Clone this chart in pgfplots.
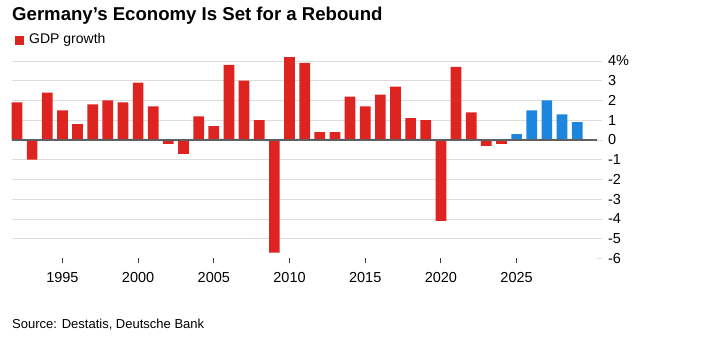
\documentclass[border=0pt]{standalone}
\usepackage{pgfplots}
\pgfplotsset{compat=1.18}
\usepackage{fontspec}
\setmainfont{Liberation Sans}
\definecolor{bred}{RGB}{221,36,32}
\definecolor{bblue}{RGB}{28,134,222}
\definecolor{gridc}{RGB}{221,221,221}
\definecolor{zeroc}{RGB}{95,95,95}
\definecolor{tickc}{RGB}{60,60,60}
\begin{document}
\begin{tikzpicture}[x=1pt,y=1pt]
\path[use as bounding box] (0,0) rectangle (725,352);
\node[anchor=base west, inner sep=0, font=\fontsize{18.6}{20}\selectfont\bfseries] at (12,331.3) {Germany’s Economy Is Set for a Rebound};
\fill[bred] (15,307) rectangle (24,316);
\node[anchor=base west, inner sep=0, font=\fontsize{14}{16}\selectfont] at (29,308.7) {GDP growth};
\node[anchor=base west, inner sep=0, font=\fontsize{13}{15}\selectfont] at (12,23) {Source: Destatis, Deutsche Bank};
\begin{axis}[
  at={(12pt,93.5pt)}, anchor=south west,
  scale only axis, width=585pt, height=207.4pt,
  xmin=1991.67, xmax=2030.31, ymin=-6, ymax=4.5,
  axis line style={draw=none},
  tick align=outside,
  xtick pos=bottom, ytick pos=right,
  yticklabel pos=right,
  xtick={1995,2000,2005,2010,2015,2020,2025},
  xticklabels={1995,2000,2005,2010,2015,2020,2025},
  ytick={-5,-4,-3,-2,-1,0,1,2,3,4},
  yticklabels={-5,-4,-3,-2,-1,0,1,2,3,4\%},
  extra y ticks={-6}, extra y tick labels={-6},
  extra y tick style={grid=none},
  ymajorgrids,
  major grid style={draw=gridc, line width=0.9pt},
  major tick length=5pt,
  x tick style={draw=tickc, line width=0.9pt},
  y tick style={draw=gridc, line width=0.9pt},
  xticklabel style={font=\fontsize{14.5}{16}\selectfont, anchor=base, yshift=-19.5pt},
  yticklabel style={font=\fontsize{14.5}{16}\selectfont, anchor=west, xshift=2.5pt},
  clip=false,
]
\addplot[ybar, bar shift=0pt, bar width=10.7pt, fill=bred, draw=none] coordinates {
(1992,1.9) (1993,-1.0) (1994,2.4) (1995,1.5) (1996,0.8) (1997,1.8) (1998,2.0) (1999,1.9)
(2000,2.9) (2001,1.7) (2002,-0.2) (2003,-0.7) (2004,1.2) (2005,0.7) (2006,3.8) (2007,3.0)
(2008,1.0) (2009,-5.7) (2010,4.2) (2011,3.9) (2012,0.4) (2013,0.4) (2014,2.2) (2015,1.7)
(2016,2.3) (2017,2.7) (2018,1.1) (2019,1.0) (2020,-4.1) (2021,3.7) (2022,1.4) (2023,-0.3)
(2024,-0.2)};
\addplot[ybar, bar shift=0pt, bar width=10.7pt, fill=bblue, draw=none] coordinates {
(2025,0.3) (2026,1.5) (2027,2.0) (2028,1.3) (2029,0.9)};
\draw[zeroc, line width=1.2pt] (axis cs:1991.67,0) -- (axis cs:2030.31,0);
\end{axis}
\end{tikzpicture}
\end{document}
